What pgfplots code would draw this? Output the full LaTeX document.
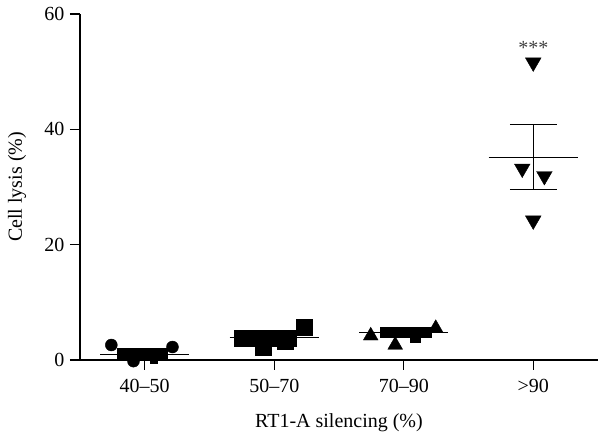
\documentclass[border=0pt]{standalone}
\usepackage{fontspec}
\setmainfont{Liberation Serif}
\usepackage{pgfplots}
\pgfplotsset{compat=1.18}
\usetikzlibrary{calc}
\begin{document}
\begin{tikzpicture}[font=\fontsize{20}{24}\selectfont]
\begin{axis}[
  name=ax,
  scale only axis, width=518pt, height=346pt,
  xmin=0.5, xmax=4.5, ymin=0, ymax=60,
  axis x line=bottom, axis y line=left,
  axis line style={-, line width=1.2pt},
  clip=false,
  xtick={1,2,3,4}, xticklabels={40--50,50--70,70--90,>90},
  ytick={0,20,40,60},
  tick align=outside, major tick length=10pt,
  tick style={line width=1.2pt, black},
  xlabel={RT1-A silencing (\%)}, ylabel={Cell lysis (\%)},
  /pgf/number format/assume math mode=true,
  every tick label/.append style={font=\fontsize{20}{24}\selectfont},
  xticklabel style={yshift=-6pt},
  yticklabel style={xshift=-2pt},
  every axis x label/.style={at={(axis description cs:0.5,-0.1965)}, anchor=base, font=\fontsize{20}{24}\selectfont},
  every axis y label/.style={at={(axis description cs:-0.112,0.5)}, rotate=90, anchor=base, font=\fontsize{20}{24}\selectfont},
]
% mean lines
\addplot[black, line width=1.2pt, no marks] coordinates {(0.655,1.0) (1.345,1.0)};
\addplot[black, line width=1.2pt, no marks] coordinates {(1.655,3.9) (2.345,3.9)};
\addplot[black, line width=1.2pt, no marks] coordinates {(2.655,4.8) (3.345,4.8)};
\addplot[black, line width=1.2pt, no marks] coordinates {(3.655,35.1) (4.345,35.1)};
% SEM group 4 (whisker and caps)
\addplot[black, line width=1.2pt, no marks] coordinates {(4,29.6) (4,40.9)};
\addplot[black, line width=1.2pt, no marks] coordinates {(3.82,40.9) (4.18,40.9)};
\addplot[black, line width=1.2pt, no marks] coordinates {(3.82,29.6) (4.18,29.6)};
% group 1
\addplot[only marks, mark=square*, mark size=5pt, black] coordinates {
 (0.828,1.15) (0.890,1.15) (0.952,1.15) (1.014,1.15) (1.076,1.15) (1.137,1.15)};
\addplot[only marks, mark=square*, mark size=3.5pt, black] coordinates {(1.071,0.0)};
\addplot[only marks, mark=*, mark size=6pt, black] coordinates {
 (0.742,2.6) (0.913,-0.2) (1.214,2.25)};
% group 2
\addplot[only marks, mark=square*, mark size=8pt, black] coordinates {
 (1.751,3.8) (1.871,3.8) (1.987,3.8) (2.107,3.8) (1.917,2.2) (2.083,3.2) (2.234,5.7)};
% group 3
\addplot[only marks, mark=square*, mark size=5pt, black] coordinates {
 (2.854,4.9) (2.933,4.9) (3.013,4.9) (3.093,4.9) (3.175,4.9) (3.088,3.9)};
\addplot[only marks, mark=triangle*, mark size=8.5pt, black] coordinates {
 (2.745,4.2) (2.934,2.6) (3.247,5.5)};
% group 4
\addplot[only marks, mark=triangle*, mark size=9pt, black, mark options={rotate=180}] coordinates {
 (4.0,51.6) (3.915,33.2) (4.086,31.9) (4.0,24.2)};
\node[anchor=north, inner sep=0pt, text=black!75] at (axis cs:4,55.2) {***};
\end{axis}
\pgfresetboundingbox
\path ($(ax.south west)+(-80pt,-73pt)$) rectangle ($(ax.north east)+(0pt,14pt)$);
\end{tikzpicture}
\end{document}
